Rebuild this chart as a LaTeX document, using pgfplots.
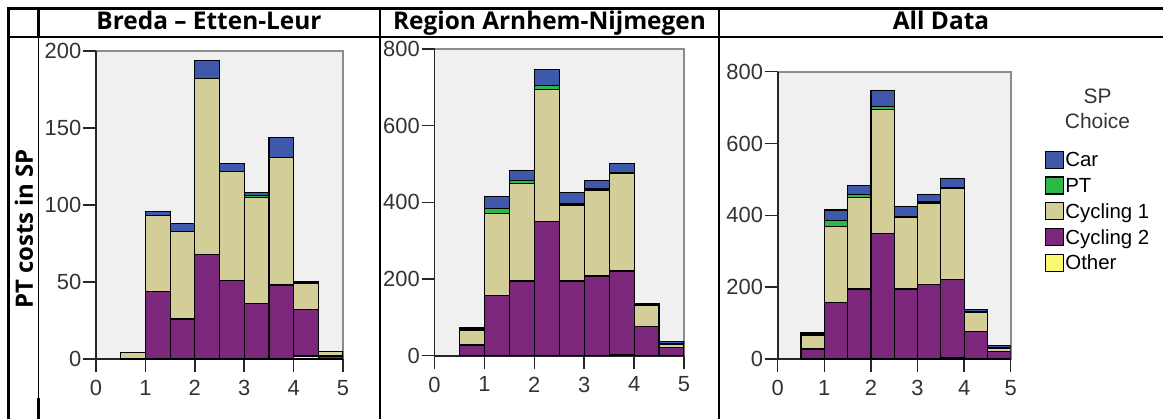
\documentclass[border=0pt]{standalone}
\usepackage{fontspec}
\setmainfont{Liberation Sans}
\newfontfamily\gill{Open Sans}
\usepackage{pgfplots}
\usepackage{pgfplotstable}
\pgfplotsset{compat=1.18}

\definecolor{carc}{RGB}{62,88,172}
\definecolor{ptc}{RGB}{46,184,72}
\definecolor{cyca}{RGB}{211,206,151}
\definecolor{cycb}{RGB}{123,39,124}
\definecolor{othc}{RGB}{251,248,115}
\definecolor{bgc}{RGB}{240,240,240}
\definecolor{framec}{RGB}{140,140,140}

\pgfplotstableread{
x other cycb cyca pt car
0.75 0 0 4 0 0
1.25 0 44 49 0 3
1.75 0 26 57 0 5
2.25 0 68 114 0 12
2.75 0 51 71 0 5
3.25 0 36 69 1 2
3.75 0 48 83 0 13
4.25 2 30 17 0 1
4.75 0 2 3 0 0
}\breda

\pgfplotstableread{
x other cycb cyca pt car
0.75 0 28 39 3 4
1.25 0 157 213 15 30
1.75 0 195 255 8 25
2.25 0 350 345 9 43
2.75 0 195 198 4 28
3.25 0 208 224 5 21
3.75 4 217 255 2 24
4.25 0 77 53 3 4
4.75 0 21 9 2 6
}\arnhem

\pgfplotsset{
  spss/.style={
    scale only axis,
    anchor=south west,
    xmin=0, xmax=5, ymin=0,
    xtick={0,1,2,3,4,5},
    axis lines=left,
    axis line style={-, draw=black!85, line width=1.7bp},
    axis background/.style={fill=bgc, draw=framec, line width=1.6bp},
    tick align=outside,
    major tick length=13bp,
    tick style={draw=black!85, line width=1.5bp},
    ybar stacked, bar width=0.5, bar shift=0pt,
    ticklabel style={font=\fontsize{22}{22}\selectfont, text=black!80},
    yticklabel style={inner sep=1.5bp},
    xticklabel style={inner sep=8bp},
    /pgf/number format/assume math mode=true,
    every axis plot/.append style={draw=black, line width=1.2bp},
  }
}

\newcommand{\bars}[1]{%
  \addplot[fill=othc] table[x=x,y=other] {#1};
  \addplot[fill=cycb] table[x=x,y=cycb] {#1};
  \addplot[fill=cyca] table[x=x,y=cyca] {#1};
  \addplot[fill=ptc] table[x=x,y=pt] {#1};
  \addplot[fill=carc] table[x=x,y=car] {#1};
}

\begin{document}
\begin{tikzpicture}[x=1bp,y=1bp]
\useasboundingbox (0,0) rectangle (1163,419);

% table rules
\draw[line width=2.4bp] (8,410.5) -- (1163,410.5);
\draw[line width=2.4bp] (8,382) -- (1163,382);
\draw[line width=2.4bp] (8.5,411.7) -- (8.5,0);
\draw[line width=2.4bp] (38.5,411.7) -- (38.5,382);
\draw[line width=1.2bp] (38.5,382) -- (38.5,21);
\draw[line width=2.4bp] (38.5,21) -- (38.5,0);
\draw[line width=2.4bp] (380,411.7) -- (380,0);
\draw[line width=2.4bp] (719,411.7) -- (719,0);

% headers
\node[anchor=base, font=\gill\bfseries\fontsize{24.5}{24.5}\selectfont, inner sep=0] at (209,389.5) {Breda – Etten-Leur};
\node[anchor=base, font=\gill\bfseries\fontsize{24.5}{24.5}\selectfont, inner sep=0] at (549.5,389.5) {Region Arnhem-Nijmegen};
\node[anchor=base, font=\gill\bfseries\fontsize{24.5}{24.5}\selectfont, inner sep=0] at (941,389.5) {All Data};
\node[rotate=90, font=\gill\bfseries\fontsize{24}{24}\selectfont, inner sep=0] at (24,190) {PT costs in SP};

% Panel 1
\begin{axis}[spss, at={(96bp,60bp)}, width=247bp, height=308bp,
  ymax=200, ytick={0,50,100,150,200}]
\bars{\breda}
\end{axis}

% Panel 2
\begin{axis}[spss, at={(434.5bp,63.3bp)}, width=249.5bp, height=306.7bp,
  ymax=800, ytick={0,200,400,600,800}]
\bars{\arnhem}
\end{axis}

% Panel 3
\begin{axis}[spss, at={(777.7bp,60bp)}, width=233bp, height=287.3bp,
  ymax=800, ytick={0,200,400,600,800},
  reverse legend,
  legend style={at={(rel axis cs:1.147,0.735)}, anchor=north west, draw=none, fill=none,
    inner sep=0pt, row sep=4.5bp, font=\fontsize{20.5}{25.5}\selectfont,
    nodes={inner sep=1bp}, cells={anchor=west}},
  legend image code/.code={\draw[#1,draw=black,line width=1.2bp] (0bp,-9.5bp) rectangle (18bp,7.5bp);}]
\bars{\arnhem}
\addlegendentry{\strut Other}
\addlegendentry{\strut Cycling 2}
\addlegendentry{\strut Cycling 1}
\addlegendentry{\strut PT}
\addlegendentry{\strut Car}
\end{axis}
\node[anchor=base, font=\fontsize{21}{21}\selectfont, text=black!80, inner sep=0] at (1097.5,316) {SP};
\node[anchor=base, font=\fontsize{21}{21}\selectfont, text=black!80, inner sep=0] at (1097.5,291) {Choice};
\end{tikzpicture}
\end{document}
